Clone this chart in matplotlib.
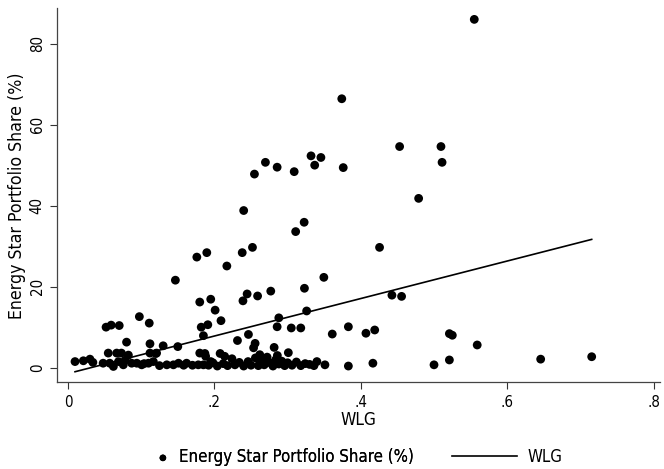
import numpy as np
from matplotlib import pyplot as plt

plt.rcParams['font.family'] = ['DejaVu Sans']
plt.rcParams['font.stretch'] = 'condensed'

# scatter values (WLG, Energy Star share %)
wlg_high = [0.2547, 0.2697, 0.2857, 0.309, 0.332, 0.337, 0.3455, 0.374, 0.376,
            0.555, 0.453, 0.5095, 0.511, 0.479,
            0.240, 0.238, 0.252, 0.311, 0.3226, 0.4256, 0.3495, 0.323, 0.277, 0.259, 0.2447, 0.239,
            0.326, 0.288, 0.2857, 0.305, 0.318, 0.2465, 0.2315, 0.2556, 0.2535, 0.2816,
            0.361, 0.383, 0.407, 0.419, 0.383, 0.4165,
            0.4425, 0.4557, 0.521, 0.525, 0.559, 0.500, 0.521, 0.6457, 0.7154]
share_high = [47.8, 50.7, 49.5, 48.4, 52.3, 50.0, 51.9, 66.4, 49.4,
              86.0, 54.6, 54.6, 50.7, 41.8,
              38.8, 28.4, 29.7, 33.6, 35.9, 29.7, 22.3, 19.6, 18.9, 17.7, 18.2, 16.5,
              14.0, 12.3, 10.1, 9.8, 9.8, 8.2, 6.7, 6.0, 4.9, 5.0,
              8.3, 10.1, 8.5, 9.3, 0.4, 1.1,
              17.9, 17.6, 8.4, 8.0, 5.6, 0.7, 1.9, 2.1, 2.7]

wlg_mid = [0.052, 0.059, 0.070, 0.080, 0.0975, 0.111, 0.112, 0.120, 0.130, 0.1467, 0.150,
           0.176, 0.1896, 0.180, 0.195, 0.201, 0.209, 0.182, 0.191, 0.185, 0.217]
share_mid = [10.0, 10.5, 10.4, 6.3, 12.6, 11.0, 5.9, 3.5, 5.4, 21.6, 5.2,
             27.3, 28.4, 16.2, 16.9, 14.2, 11.6, 10.0, 10.6, 7.9, 25.1]

wlg_low = [0.0096, 0.021, 0.030, 0.034, 0.048, 0.055, 0.057, 0.062, 0.0665, 0.069, 0.073,
           0.0756, 0.0825, 0.087, 0.094, 0.1007, 0.110, 0.112, 0.1166, 0.121, 0.135, 0.144,
           0.151, 0.162, 0.178, 0.180, 0.185, 0.078, 0.104, 0.125, 0.158, 0.170, 0.188, 0.195,
           0.187, 0.2078, 0.301, 0.34, 0.351,
           0.192, 0.198, 0.204, 0.212, 0.218, 0.224, 0.228, 0.234, 0.240, 0.246, 0.250, 0.256,
           0.260, 0.264, 0.268, 0.272, 0.276, 0.280, 0.284, 0.288, 0.292, 0.296, 0.300, 0.306,
           0.312, 0.318, 0.324, 0.330, 0.336, 0.262, 0.286, 0.214]
share_low = [1.5, 1.7, 2.1, 1.3, 1.1, 3.6, 1.1, 0.3, 3.6, 1.5, 3.6,
             0.7, 3.1, 1.1, 1.1, 0.7, 1.1, 3.6, 1.5, 3.6, 0.7, 0.7,
             1.1, 1.1, 0.7, 3.6, 0.7, 1.8, 1.0, 0.5, 0.6, 0.6, 2.8, 1.5,
             3.5, 3.5, 3.7, 1.5, 0.7,
             0.6, 1.2, 0.4, 1.0, 0.5, 2.2, 0.7, 1.3, 0.4, 1.5, 0.6, 2.4,
             0.5, 1.8, 0.7, 2.6, 1.2, 0.4, 2.0, 0.9, 1.6, 0.5, 1.2, 0.6,
             1.4, 0.5, 1.0, 0.8, 0.5, 3.2, 3.0, 2.8]

# fitted line
fit_intercept = -1.45
fit_slope = 46.3

x_ticks = [0, 0.2, 0.4, 0.6, 0.8]
x_tick_labels = ['0', '.2', '.4', '.6', '.8']
y_ticks = [0, 20, 40, 60, 80]


def plot_scatter():
    wlg = np.array(wlg_high + wlg_mid + wlg_low)
    share = np.array(share_high + share_mid + share_low)

    fig = plt.figure(figsize=(6.64, 4.69), dpi=100)
    ax = fig.add_axes([0.0863, 0.185, 0.908, 0.797])

    pts = ax.scatter(wlg, share, s=40, c='black', edgecolors='none',
                     label='Energy Star Portfolio Share (%)', zorder=3)
    fx = np.array([wlg.min(), wlg.max()])
    fit_line, = ax.plot(fx, fit_intercept + fit_slope * fx, color='black', lw=1.2,
                        label='WLG', zorder=2)

    ax.set_xlim(-0.0146, 0.809)
    ax.set_ylim(-3.6, 88.7)
    ax.set_xticks(x_ticks)
    ax.set_xticklabels(x_tick_labels)
    ax.set_yticks(y_ticks)
    for lab in ax.get_yticklabels():
        lab.set_rotation(90)
        lab.set_va('center')
    ax.tick_params(direction='out', length=5, width=0.8, labelsize=10.8, colors='#333333',
                   labelcolor='black', pad=4)
    for side in ['top', 'right']:
        ax.spines[side].set_visible(False)
    for side in ['left', 'bottom']:
        ax.spines[side].set_color('#444444')
        ax.spines[side].set_linewidth(0.9)

    ax.set_xlabel('WLG', fontsize=12.4, labelpad=1)
    ax.set_ylabel('Energy Star Portfolio Share (%)', fontsize=12.7, labelpad=3)

    # two separate legend boxes so the marker sits close to its text (Stata style)
    leg1 = fig.legend(handles=[pts], loc='center left', bbox_to_anchor=(0.22, 0.025),
                      frameon=False, fontsize=12.1, borderpad=0, handlelength=1.0,
                      handletextpad=0.45, markerscale=0.75)
    fig.add_artist(leg1)
    fig.legend(handles=[fit_line], loc='center left', bbox_to_anchor=(0.668, 0.025),
               frameon=False, fontsize=12.1, borderpad=0, handlelength=3.9,
               handletextpad=0.6)

    plt.savefig('out.png', dpi=100)


if __name__ == "__main__":
    plot_scatter()
